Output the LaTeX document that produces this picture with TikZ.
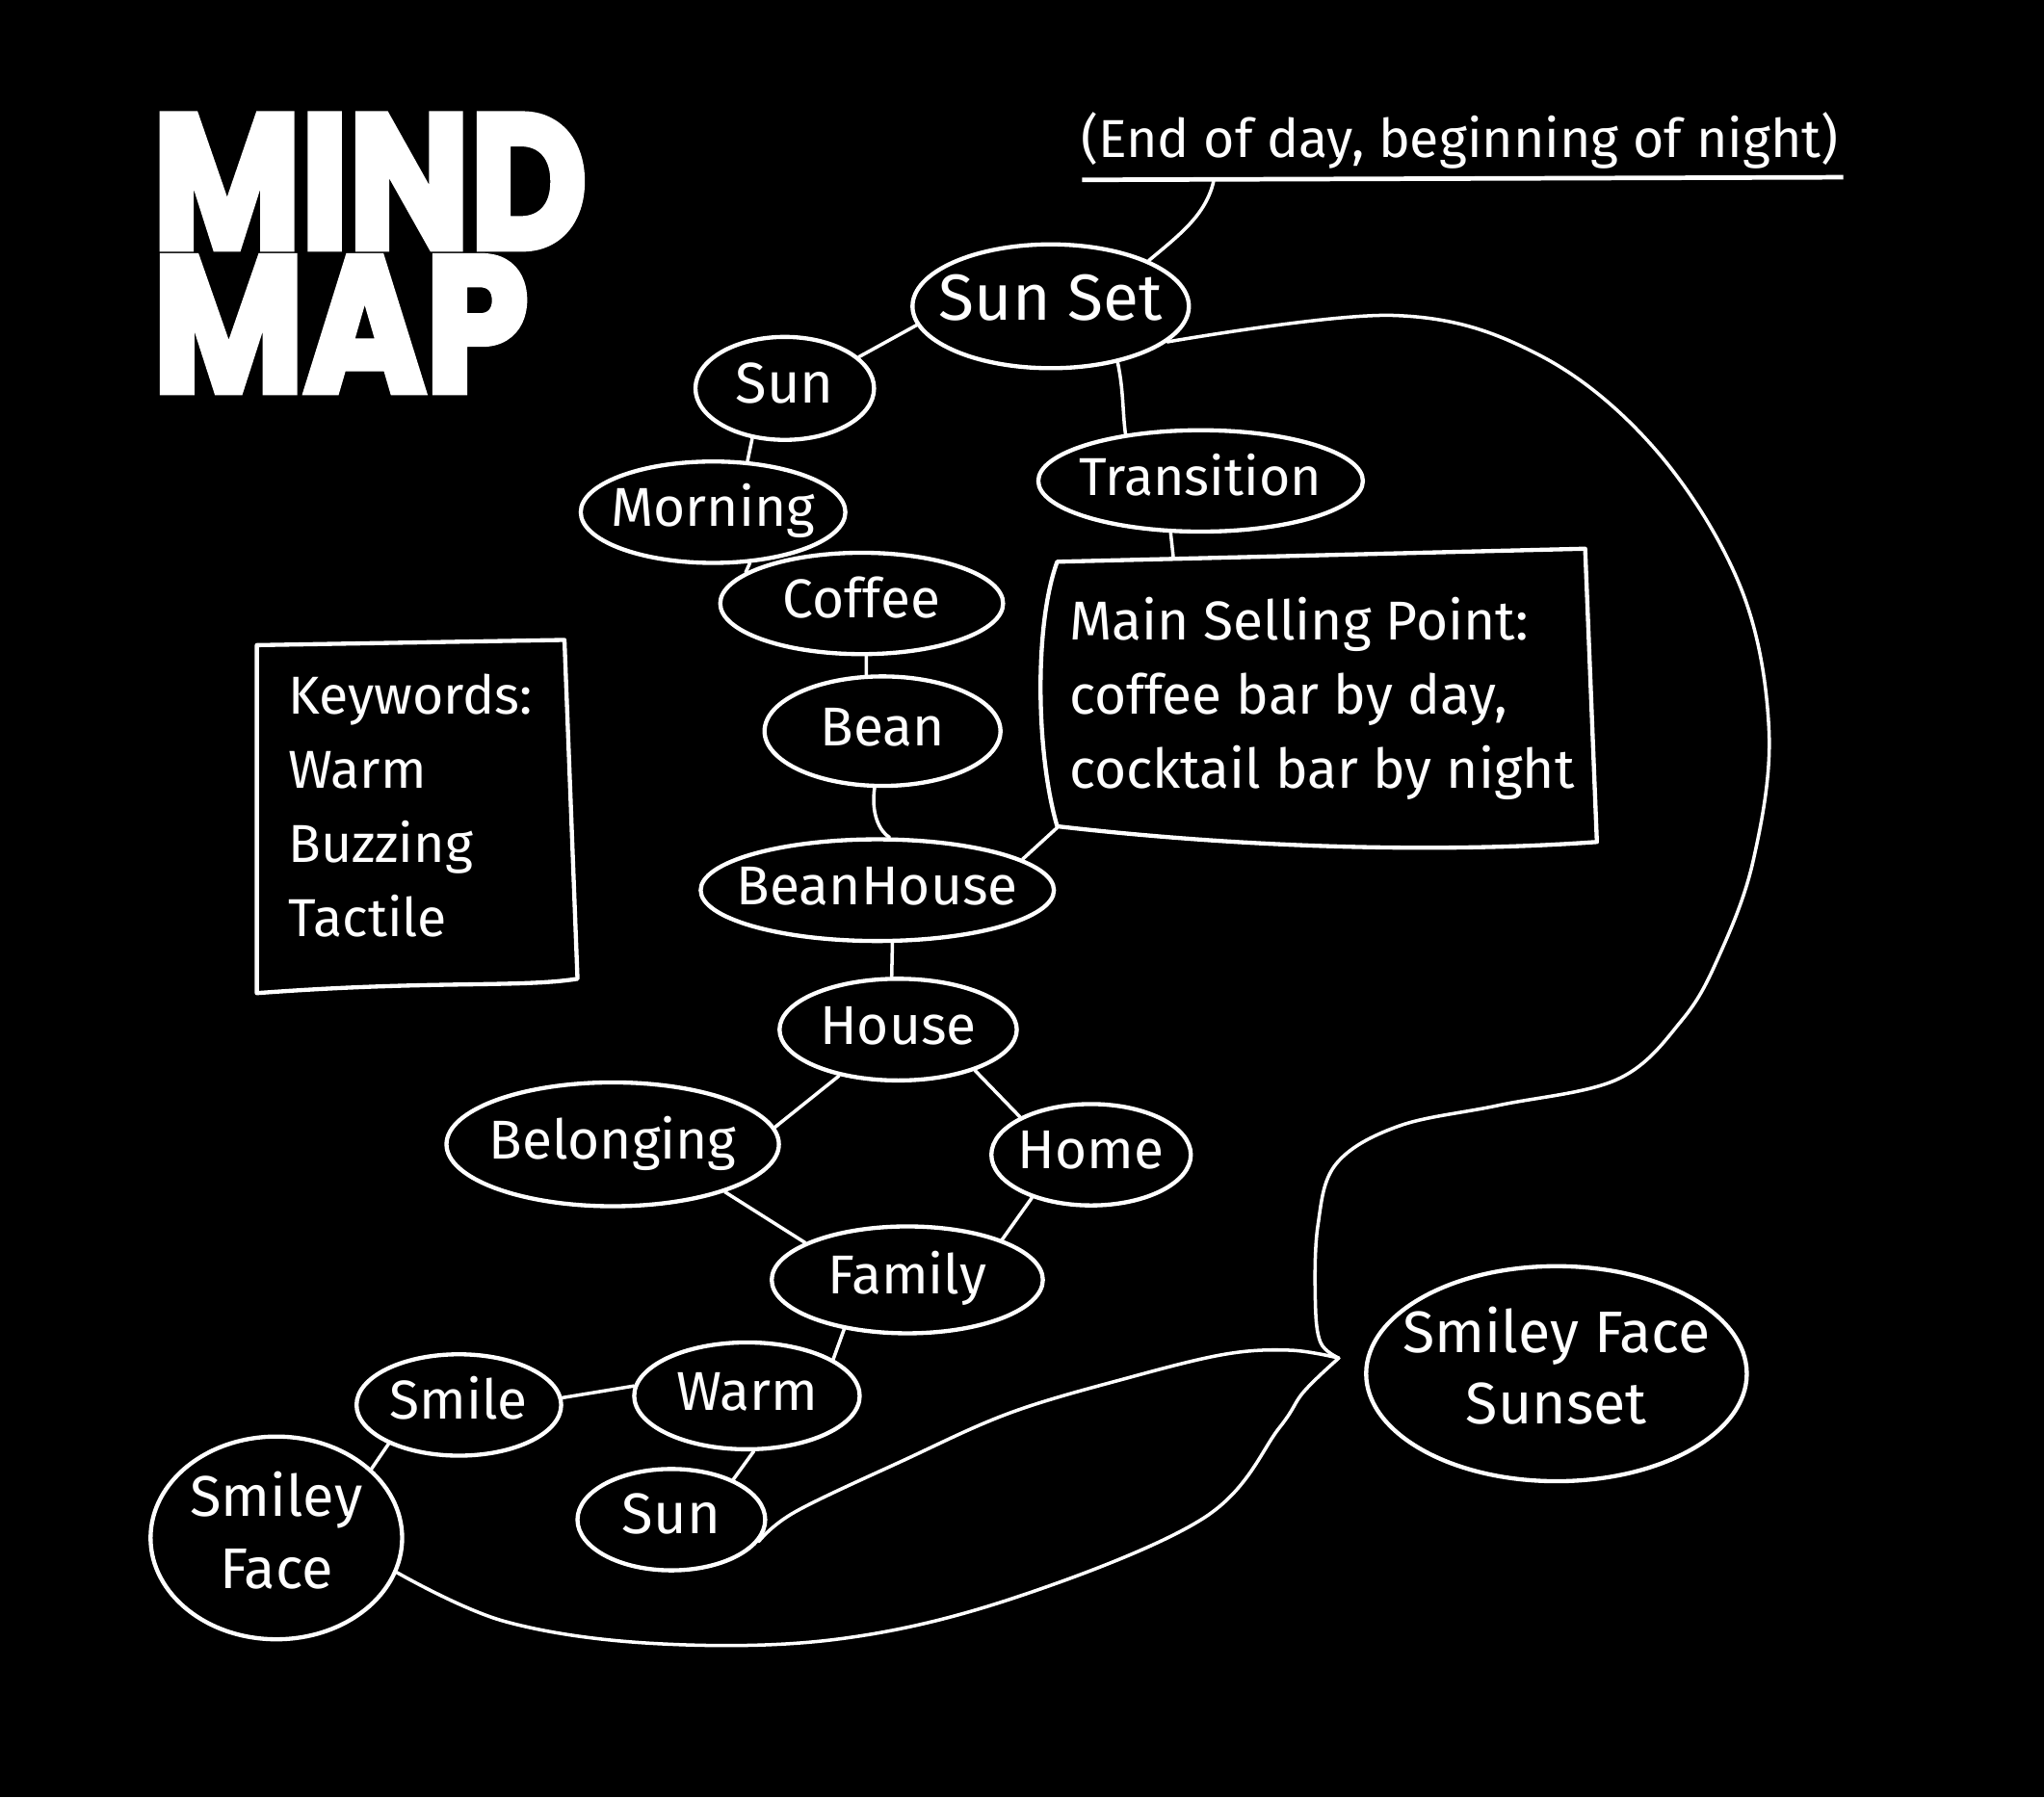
\documentclass[tikz,border=0pt]{standalone}
\usepackage{graphicx}
\usepackage{fontspec}
\setmainfont{Fira Sans}
\newfontfamily\titlefont{Poppins}[UprightFeatures={FakeBold=4}, BoldFeatures={FakeBold=4}]
\usetikzlibrary{shapes.geometric,calc}
\newcommand\lbl[2]{\makebox[0pt]{\fontsize{#1}{55}\selectfont\begin{tabular}{@{}c@{}}#2\end{tabular}}}
\tikzset{
  blob/.style={ellipse, draw=white, line width=3.2pt, fill=black, text=white, inner sep=0pt},
  link/.style={draw=white, line width=2.6pt, line cap=round, line join=round},
  outline/.style={draw=white, line width=3.2pt, line join=round},
  notetext/.style={text=white, inner sep=0pt, align=left},
}
\begin{document}
\begin{tikzpicture}[x=1pt,y=-1pt]
\fill[black] (0,0) rectangle (1568,1379);
\useasboundingbox (0,0) rectangle (1568,1379);

% title
\node[anchor=north west, inner sep=0pt, text=white, align=left, font=\fontsize{20}{110}\selectfont] (title) at (117,88)
  {\resizebox{333pt}{102pt}{\titlefont\bfseries MIND}\\\resizebox{288pt}{103pt}{\titlefont\bfseries MAP}};

% top note
\node[notetext, anchor=base west, font=\fontsize{41}{48}\selectfont] (note) at (829,121) {(End of day, beginning of night)};
\coordinate (ul1) at (830,138);
\coordinate (ul2) at (1414,136);
\coordinate (ulm) at (931,139);
\draw[white, line width=3.5pt] (ul1) -- (ul2);

% nodes
\node[blob, minimum width=212pt, minimum height=95pt] (sunset) at (806,235) {\lbl{50}{Sun Set}};
\node[blob, minimum width=137pt, minimum height=79pt] (sun1) at (602,298) {\lbl{44}{Sun}};
\node[blob, minimum width=203pt, minimum height=74pt] (morning) at (547,393) {\lbl{42}{Morning}};
\node[blob, minimum width=217pt, minimum height=77pt] (coffee) at (661,463) {\lbl{42}{Coffee}};
\node[blob, minimum width=181pt, minimum height=84pt] (bean) at (677,561) {\lbl{42}{Bean}};
\node[blob, minimum width=271pt, minimum height=78pt] (beanhouse) at (673,683) {\lbl{42}{BeanHouse}};
\node[blob, minimum width=249pt, minimum height=76pt] (transition) at (921,369) {\lbl{41}{Transition}};
\node[blob, minimum width=182pt, minimum height=78pt] (house) at (689,790) {\lbl{42}{House}};
\node[blob, minimum width=255pt, minimum height=95pt] (belonging) at (470,878) {\lbl{42}{Belonging}};
\node[blob, minimum width=153pt, minimum height=68pt] (home) at (837,886) {\lbl{42}{Home}};
\node[blob, minimum width=208pt, minimum height=82pt] (family) at (696,982) {\lbl{42}{Family}};
\node[blob, minimum width=173pt, minimum height=82pt] (warm) at (573,1071) {\lbl{42}{Warm}};
\node[blob, minimum width=157pt, minimum height=68pt] (smile) at (352,1078) {\lbl{42}{Smile}};
\node[blob, minimum width=144pt, minimum height=63pt] (sun2) at (515,1166) {\lbl{44}{Sun}};
\node[blob, minimum width=193pt, minimum height=145pt] (smileyface) at (212,1180) {\lbl{44}{Smiley\\Face}};
\node[blob, minimum width=292pt, minimum height=165pt] (sfsunset) at (1194,1054) {\lbl{45}{Smiley Face\\Sunset}};

% main selling point box
\coordinate (msptop) at (900,427);
\coordinate (mspbl) at (811,635);
\draw[outline] (811,431) -- (1216,421) -- (1225,646) .. controls (1100,655) and (950,650) .. (811,634) .. controls (795,580) and (793,480) .. cycle;
\node[notetext, anchor=north west, font=\fontsize{42}{57}\selectfont] (msp) at (820,458) {Main Selling Point:\\coffee bar by day,\\cocktail bar by night};

% keywords box
\draw[outline] (197,495) -- (433,491) -- (443,751) .. controls (400,758) and (330,752) .. (197,762) -- cycle;
\node[notetext, anchor=north west, font=\fontsize{41}{57}\selectfont] (kw) at (221,517) {Keywords:\\Warm\\Buzzing\\Tactile};

% connectors
\draw[link] (ulm) .. controls (925,165) and (905,180) .. (sunset.25);
\draw[link] (sun1.23) -- (sunset.188);
\draw[link] (sunset.-40) .. controls (862,300) and (861,315) .. (transition.148);
\draw[link] (sun1.237) -- (morning.56);
\draw[link] (morning.-54) -- (coffee.165);
\draw[link] (coffee.-85) -- (bean.106);
\draw[link] (bean.262) .. controls (668,625) and (675,638) .. (beanhouse.77);
\draw[link] (mspbl) -- (beanhouse.12);
\draw[link] (transition.240) -- (msptop);
\draw[link] (beanhouse.-74) -- (house.97);
\draw[link] (house.218) -- (belonging.6);
\draw[link] (house.-28) -- (home.152);
\draw[link] (belonging.-23) -- (family.160);
\draw[link] (home.216) -- (family.23);
\draw[link] (family.218) -- (warm.23);
\draw[link] (warm.175) -- (smile.4);
\draw[link] (warm.-83) -- (sun2.33);
\draw[link] (smile.209) -- (smileyface.36);

% long curves
\coordinate (junc) at (1027,1042);
\draw[link] plot[smooth, tension=0.6] coordinates {(sunset.-17) (1069,242) (1180,272) (1270,345) (1335,450) (1357,560) (1345,660) (1318,735) (1290,783) (1241,828) (1150,848) (1073,864) (1025,893) (1011,940) (1009,998) (1013,1030) (junc)};
\draw[link] plot[smooth, tension=0.6] coordinates {(junc) (990,1036) (940,1039) (866,1057) (775,1084) (692,1121) (610,1160) (sun2.-14)};
\draw[link] plot[smooth, tension=0.6] coordinates {(junc) (1000,1068) (981,1096) (923,1165) (775,1227) (640,1258) (502,1261) (387,1244) (smileyface.-16)};
\end{tikzpicture}
\end{document}
